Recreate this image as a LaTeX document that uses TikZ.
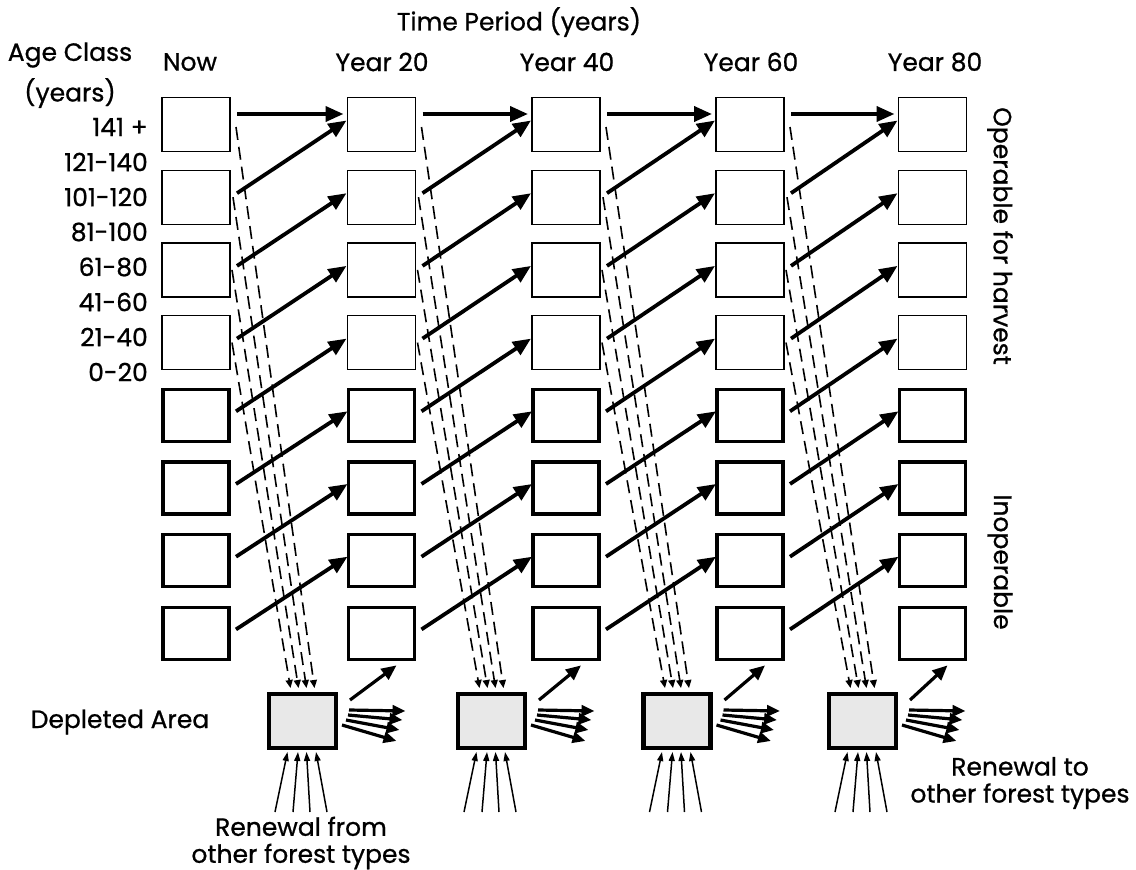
\documentclass[tikz,border=0pt]{standalone}
\usepackage{fontspec}
\setmainfont{Poppins}[FakeBold=0.8]
\usetikzlibrary{arrows.meta,calc}
\begin{document}
\begin{tikzpicture}[x=1pt,y=-1pt,
  every node/.style={font=\fontsize{25}{27}\selectfont},
  opbox/.style={draw, line width=1.3pt, minimum width=68pt, minimum height=54pt, inner sep=0pt, outer sep=0pt},
  inbox/.style={draw, line width=3.3pt, minimum width=66pt, minimum height=52pt, inner sep=0pt, outer sep=0pt},
  depbox/.style={draw, line width=4.5pt, fill=black!9, minimum width=67pt, minimum height=54pt, inner sep=0pt, outer sep=0pt},
  mainarrow/.style={line width=3.8pt, -{Triangle[length=18pt,width=15pt]}},
  midarrow/.style={line width=3.2pt, -{Triangle[length=15pt,width=13pt]}},
  fanarrow/.style={line width=3.2pt, -{Triangle[length=13pt,width=11pt]}},
  deparrow/.style={line width=1.6pt, dash pattern=on 13pt off 7pt, -{Triangle[length=8pt,width=7pt]}},
  renarrow/.style={line width=1.5pt, -{Triangle[length=9pt,width=6pt]}},
  lbl/.style={inner sep=0pt, anchor=center},
  agelbl/.style={inner sep=0pt, anchor=east},
]
\useasboundingbox (0,0) rectangle (1136,870);

% boxes
\foreach \c/\x in {0/196,1/381.5,2/566,3/750,4/932.5} {
  \foreach \r in {0,...,3} { \node[opbox] (b-\c-\r) at (\x,124.5+72.7*\r) {}; }
  \foreach \r in {4,...,7} { \node[inbox] (b-\c-\r) at (\x,124.5+72.7*\r) {}; }
}
% depleted areas
\foreach \c/\x in {0/302.5,1/491.5,2/677,3/862.5} {
  \node[depbox] (d-\c) at (\x,721) {};
}

% transitions
\foreach \c in {0,1,2,3} {
  \pgfmathtruncatemacro{\n}{\c+1}
  \draw[mainarrow] ($(b-\c-0.east)+(7,-10.5)$) -- ($(b-\n-0.west)+(-4,-10.5)$);
  \foreach \r in {1,...,7} {
    \pgfmathtruncatemacro{\p}{\r-1}
    \draw[mainarrow] ($(b-\c-\r.east)+(7,-4)$) -- ($(b-\n-\p.west)+(-1,-4)$);
  }
  % harvest to depleted area
  \draw[deparrow] ($(b-\c-0.east)+(6,2.5)$) -- ($(d-\c.north)+(12,-6)$);
  \draw[deparrow] ($(b-\c-1.east)+(3,0)$) -- ($(d-\c.north)+(4,-6)$);
  \draw[deparrow] ($(b-\c-2.east)+(2,0)$) -- ($(d-\c.north)+(-4,-6)$);
  \draw[deparrow] ($(b-\c-3.east)+(2,0)$) -- ($(d-\c.north)+(-12,-6)$);
  % regeneration
  \draw[midarrow] ($(d-\c.north east)+(14,6)$) -- ($(b-\n-7.south)+(15,6)$);
  % renewal to other forest types
  \coordinate (f-\c-1) at ($(d-\c)+(103,-10)$);
  \coordinate (f-\c-2) at ($(d-\c)+(100,-1)$);
  \coordinate (f-\c-3) at ($(d-\c)+(97,9)$);
  \coordinate (f-\c-4) at ($(d-\c)+(94,20)$);
  \draw[fanarrow] ($(d-\c)+(46.5,-11)$) -- (f-\c-1);
  \draw[fanarrow] ($(d-\c)+(45.5,-6)$) -- (f-\c-2);
  \draw[fanarrow] ($(d-\c)+(43.5,-1)$) -- (f-\c-3);
  \draw[fanarrow] ($(d-\c)+(39.5,4)$) -- (f-\c-4);
  % renewal from other forest types
  \coordinate (r-\c-1) at ($(d-\c)+(-27.5,91)$);
  \coordinate (r-\c-2) at ($(d-\c)+(-9.5,91)$);
  \coordinate (r-\c-3) at ($(d-\c)+(7.5,91)$);
  \coordinate (r-\c-4) at ($(d-\c)+(24.5,91)$);
  \draw[renarrow] (r-\c-1) -- ($(d-\c.south)+(-15,4)$);
  \draw[renarrow] (r-\c-2) -- ($(d-\c.south)+(-4.5,4)$);
  \draw[renarrow] (r-\c-3) -- ($(d-\c.south)+(4,4)$);
  \draw[renarrow] (r-\c-4) -- ($(d-\c.south)+(13.5,4)$);
}

% labels
\node[lbl] (tp) at (519,22) {Time Period (years)};
\node[lbl] (ac) at (70,55) {Age Class};
\node[lbl] (acy) at (70,93) {(years)};
\node[lbl] (h0) at (190,62) {Now};
\node[lbl] (h1) at (382,62) {Year 20};
\node[lbl] (h2) at (567,62) {Year 40};
\node[lbl] (h3) at (751,62) {Year 60};
\node[lbl] (h4) at (935,62) {Year 80};
\foreach \t [count=\i from 0] in {141 +,121-140,101-120,81-100,61-80,41-60,21-40,0-20} {
  \node[agelbl] (a-\i) at (148,127+35*\i) {\t};
}
\node[lbl, rotate=-90] (op) at (1000,236) {Operable for harvest};
\node[lbl, rotate=-90] (inop) at (1000,562) {Inoperable};
\node[lbl] (dep) at (120,722) {Depleted Area};
\node[lbl, align=center] (rf) at (301,843) {Renewal from\\other forest types};
\node[lbl, align=center] (rt) at (1020,783) {Renewal to\\other forest types};
\end{tikzpicture}
\end{document}
